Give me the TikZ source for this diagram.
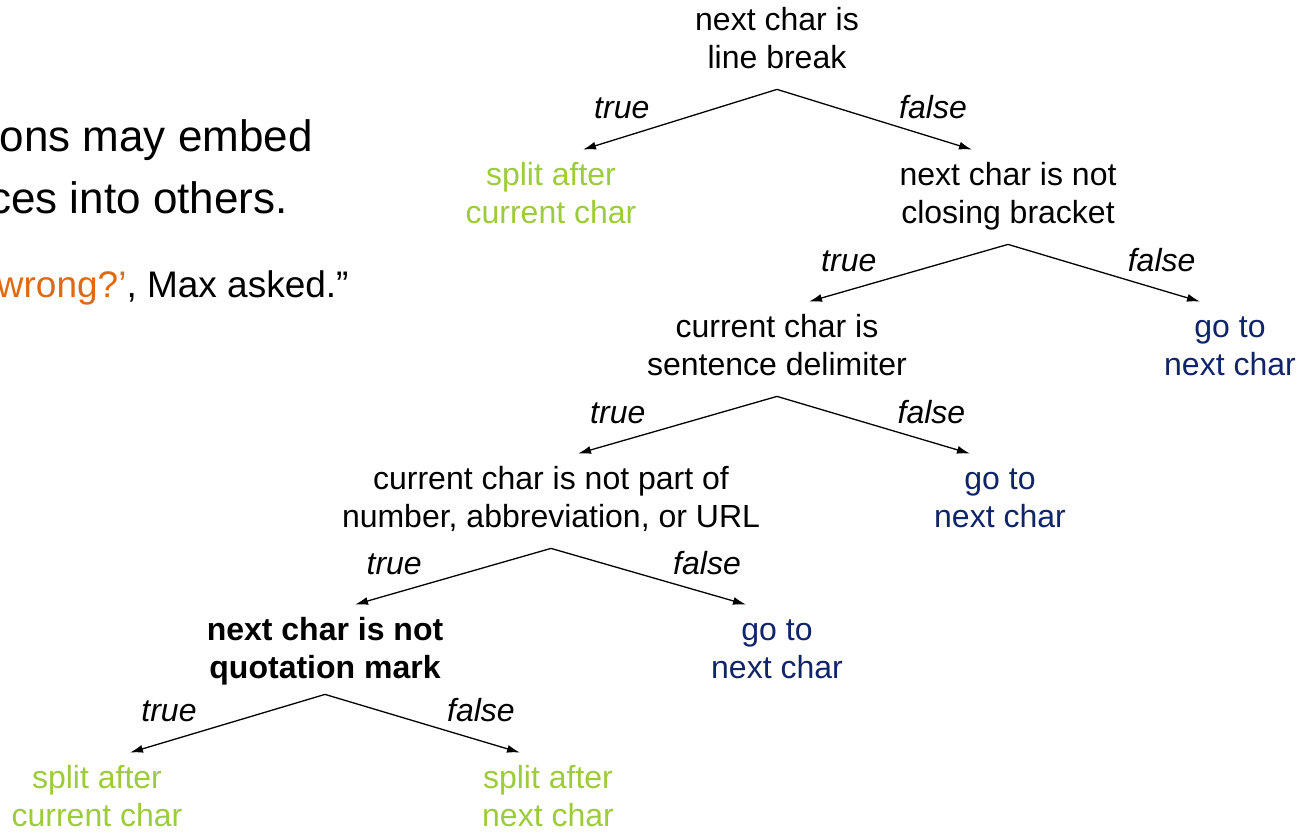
\documentclass[tikz,border=0pt]{standalone}
\usepackage{fontspec}
\setmainfont{Liberation Sans}
\usetikzlibrary{arrows.meta}
\definecolor{G1}{RGB}{156,203,59}
\definecolor{B1}{RGB}{16,36,104}
\definecolor{O1}{RGB}{224,106,18}
\newcommand{\twoln}[2]{\strut#1\\#2\strut}

\begin{document}
\begin{tikzpicture}[x=0.5pt, y=-0.5pt,
    txt/.style={align=center, font=\fontsize{16}{19}\selectfont, inner xsep=2pt, inner ysep=4.5pt},
    lbl/.style={font=\fontsize{16}{19}\selectfont\itshape, anchor=base, yshift=9.5pt, inner sep=0pt},
    arr/.style={-{Latex[length=6.5pt,width=4pt]}, line width=0.65pt}]
      \useasboundingbox (0,0) rectangle (1313,833);
      % text on the left, cut off by the page edge
      \node[anchor=base east, inner sep=0pt, font=\fontsize{22}{31}\selectfont] (txta) at (313,152) {ons may embed};
      \node[anchor=base east, inner sep=0pt, font=\fontsize{22}{31}\selectfont] (txtb) at (288,214) {ces into others.};
      \node[anchor=base east, inner sep=0pt, font=\fontsize{18.5}{22}\selectfont] (txtc) at (349,298) {\textcolor{O1}{wrong?’}, Max asked.”};
      % tree
      \node[txt] (root) at (777,42) {\twoln{next char is}{line break}};
      \node[txt, G1] (brk) at (551,197) {\twoln{split after}{current char}};
      \node[txt] (close) at (1008,197) {\twoln{next char is not}{closing bracket}};
      \node[txt, B1] (goa) at (1230,349) {\twoln{go to}{next char}};
      \node[txt] (delim) at (777,349) {\twoln{current char is}{sentence delimiter}};
      \node[txt, B1] (gob) at (1000,501) {\twoln{go to}{next char}};
      \node[txt] (part) at (551,501) {\twoln{current char is not part of}{number, abbreviation, or URL}};
      \node[txt, B1] (goc) at (777,652) {\twoln{go to}{next char}};
      \node[txt, font=\fontsize{16}{19}\selectfont\bfseries] (quote) at (325,652) {\twoln{next char is not}{quotation mark}};
      \node[txt, G1] (splita) at (97,800) {\twoln{split after}{current char}};
      \node[txt, G1] (splitb) at (548,800) {\twoln{split after}{next char}};
      % edges
      \draw[arr] (root.south) -- ([xshift=16pt]brk.north) node[lbl, pos=0.8]{true};
      \draw[arr] (root.south) -- ([xshift=-18pt]close.north) node[lbl, pos=0.8]{false};
      \draw[arr] (close.south) -- ([xshift=16pt]delim.north) node[lbl, pos=0.8]{true};
      \draw[arr] (close.south) -- ([xshift=-15pt]goa.north) node[lbl, pos=0.8]{false};
      \draw[arr] (delim.south) -- ([xshift=13.5pt]part.north) node[lbl, pos=0.8]{true};
      \draw[arr] (delim.south) -- ([xshift=-15pt]gob.north) node[lbl, pos=0.8]{false};
      \draw[arr] (part.south) -- ([xshift=15pt]quote.north) node[lbl, pos=0.8]{true};
      \draw[arr] (part.south) -- ([xshift=-15.5pt]goc.north) node[lbl, pos=0.8]{false};
      \draw[arr] ([yshift=2.5pt]quote.south) -- ([xshift=16.5pt]splita.north) node[lbl, pos=0.8]{true};
      \draw[arr] ([yshift=2.5pt]quote.south) -- ([xshift=-14pt]splitb.north) node[lbl, pos=0.8]{false};
\end{tikzpicture}
\end{document}
